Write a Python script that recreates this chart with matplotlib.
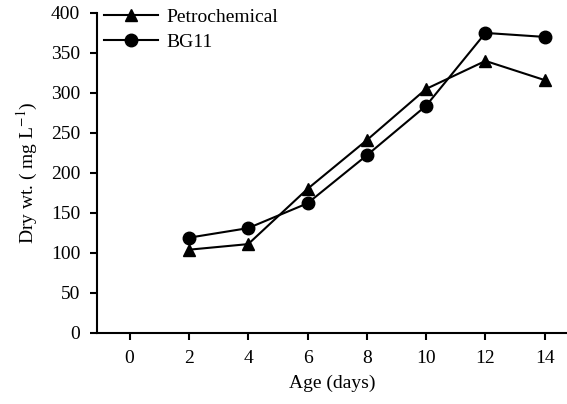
import matplotlib
matplotlib.use("Agg")
import matplotlib.pyplot as plt

days = [2, 4, 6, 8, 10, 12, 14]
petro = [104, 111, 180, 241, 305, 340, 316]
bg11 = [119, 131, 162, 222, 284, 375, 370]
xticks = [0, 2, 4, 6, 8, 10, 12, 14]
yticks = [0, 50, 100, 150, 200, 250, 300, 350, 400]

plt.rcParams['font.family'] = ['Liberation Serif', 'DejaVu Serif']
plt.rcParams['mathtext.fontset'] = 'stix'
fig = plt.figure(figsize=(5.67, 4.04), dpi=100)
ax = fig.add_axes([0.171, 0.176, 0.829, 0.792])
ax.plot(days, petro, color='black', marker='^', markersize=9, lw=1.5, label='Petrochemical')
ax.plot(days, bg11, color='black', marker='o', markersize=9, lw=1.5, label='BG11')
ax.set_xlim(-1.1, 14.75)
ax.set_ylim(0, 400)
ax.set_xticks(xticks)
ax.set_yticks(yticks)
ax.spines['top'].set_visible(False)
ax.spines['right'].set_visible(False)
for s in ['left', 'bottom']:
    ax.spines[s].set_linewidth(1.5)
ax.tick_params(direction='out', width=1.5, length=5, labelsize=14, pad=7)
ax.set_xlabel('Age (days)', fontsize=14, labelpad=6)
ax.set_ylabel('Dry wt. ( mg L$^{-1}$)', fontsize=14, labelpad=8)
ax.legend(loc='upper left', frameon=False, fontsize=14, handlelength=2.8,
          handletextpad=0.4, borderaxespad=0.0, borderpad=0.0,
          bbox_to_anchor=(0.015, 1.015), labelspacing=0.4)
fig.savefig('out.png', dpi=100)
